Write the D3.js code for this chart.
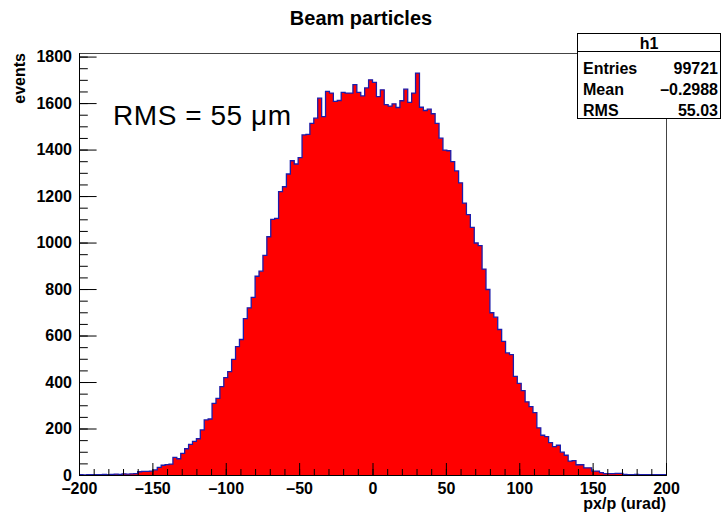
<!DOCTYPE html>
<html>
<head>
<meta charset="utf-8">
<script src="https://cdn.jsdelivr.net/npm/d3@7"></script>
<style>
  body { margin: 0; background: #fff; }
  svg text { font-family: "Liberation Sans", Arial, Helvetica, sans-serif; }
</style>
</head>
<body>
<div id="chart"></div>
<script>
// Histogram range and bin contents (150 bins from -200 to 200)
const xRange = [-200, 200];
const counts = [
    1, 0, 2, 1, 2, 1, 3, 2, 3, 4,
    3, 5, 4, 5, 6, 14, 16, 16, 17, 22,
    33, 42, 45, 47, 76, 70, 93, 113, 132, 145,
    156, 194, 237, 241, 308, 330, 380, 419, 445, 497,
    552, 583, 673, 719, 764, 855, 877, 945, 1025, 1100,
    1104, 1219, 1240, 1295, 1352, 1338, 1365, 1463, 1465, 1513,
    1535, 1621, 1542, 1650, 1643, 1607, 1611, 1646, 1643, 1643,
    1679, 1646, 1631, 1665, 1700, 1689, 1628, 1657, 1593, 1587,
    1597, 1581, 1610, 1660, 1603, 1643, 1729, 1582, 1568, 1574,
    1554, 1513, 1449, 1398, 1395, 1348, 1308, 1257, 1170, 1120,
    1065, 998, 987, 886, 798, 698, 679, 626, 575, 525,
    518, 424, 394, 363, 315, 294, 268, 203, 171, 165,
    139, 122, 128, 98, 85, 60, 62, 44, 44, 31,
    31, 17, 17, 10, 6, 6, 6, 7, 7, 3,
    2, 2, 3, 1, 2, 2, 1, 2, 1, 1
];

// Tick labels
const xTicks = [-200, -150, -100, -50, 0, 50, 100, 150, 200];
const yTicks = [0, 200, 400, 600, 800, 1000, 1200, 1400, 1600, 1800];

// Stats box
const statNames = ["Entries", "Mean", "RMS"];
const statValues = ["99721", "\u20130.2988", "55.03"];

const width = 721, height = 515;
const frame = {left: 79, right: 666, top: 53, bottom: 475};

const svg = d3.select("#chart")
    .append("svg")
    .attr("width", width)
    .attr("height", height);

svg.append("rect")
    .attr("width", width)
    .attr("height", height)
    .attr("fill", "#fff");

// Scales (ROOT puts the top of the frame at 1.05 * max)
const binWidth = (xRange[1] - xRange[0]) / counts.length;
const x = d3.scaleLinear().domain(xRange).range([frame.left, frame.right]);
const y = d3.scaleLinear()
    .domain([0, d3.max(counts) * 1.05])
    .range([frame.bottom, frame.top]);

// Step outline of the histogram
const steps = [];
counts.forEach((c, i) => {
    const lo = xRange[0] + i * binWidth;
    steps.push([lo, c], [lo + binWidth, c]);
});

const area = d3.area()
    .x(d => x(d[0]))
    .y0(y(0))
    .y1(d => y(d[1]));

const line = d3.line()
    .x(d => x(d[0]))
    .y(d => y(d[1]));

svg.append("path")
    .datum(steps)
    .attr("d", area)
    .attr("fill", "#ff0000");

svg.append("path")
    .datum(steps)
    .attr("d", line)
    .attr("fill", "none")
    .attr("stroke", "#1c1caa")
    .attr("stroke-width", 1.3);

// Frame
svg.append("rect")
    .attr("x", frame.left + 0.5)
    .attr("y", frame.top + 0.5)
    .attr("width", frame.right - frame.left)
    .attr("height", frame.bottom - frame.top)
    .attr("fill", "none")
    .attr("stroke", "#444");

const fmt = d => d < 0 ? "\u2013" + (-d) : String(d);

// X axis: minor ticks then major ticks with labels
svg.append("g")
    .attr("transform", `translate(0,${frame.bottom})`)
    .call(d3.axisBottom(x)
        .tickValues(d3.range(-200, 201, 10))
        .tickSize(-6)
        .tickSizeOuter(0)
        .tickFormat(""));

const xAxis = svg.append("g")
    .attr("transform", `translate(0,${frame.bottom})`)
    .call(d3.axisBottom(x)
        .tickValues(xTicks)
        .tickSize(-12)
        .tickSizeOuter(0)
        .tickPadding(8)
        .tickFormat(fmt));

// Y axis
svg.append("g")
    .attr("transform", `translate(${frame.left},0)`)
    .call(d3.axisLeft(y)
        .tickValues(d3.range(0, 1801, 50))
        .tickSize(-8.8)
        .tickSizeOuter(0)
        .tickFormat(""));

const yAxis = svg.append("g")
    .attr("transform", `translate(${frame.left},0)`)
    .call(d3.axisLeft(y)
        .tickValues(yTicks)
        .tickSize(-17.6)
        .tickSizeOuter(0)
        .tickPadding(7)
        .tickFormat(d3.format("d")));

svg.selectAll(".tick line").attr("stroke", "#000");
svg.selectAll(".domain").attr("stroke", "#000");
[xAxis, yAxis].forEach(g => g.selectAll("text")
    .style("font-size", "16px")
    .style("font-weight", "bold")
    .attr("fill", "#000")
    .style("font-family", "'Liberation Sans', Arial, sans-serif"));

// Axis titles
svg.append("text")
    .attr("x", frame.right)
    .attr("y", 509)
    .attr("text-anchor", "end")
    .style("font-size", "16px")
    .style("font-weight", "bold")
    .text("px/p (urad)");

svg.append("text")
    .attr("transform", `translate(25,${frame.top}) rotate(-90)`)
    .attr("text-anchor", "end")
    .style("font-size", "16px")
    .style("font-weight", "bold")
    .text("events");

// Title
svg.append("text")
    .attr("x", 361)
    .attr("y", 25)
    .attr("text-anchor", "middle")
    .style("font-size", "20px")
    .style("font-weight", "bold")
    .text("Beam particles");

// Annotation
svg.append("text")
    .attr("x", 113)
    .attr("y", 125)
    .attr("textLength", 178)
    .attr("lengthAdjust", "spacing")
    .style("font-size", "28px")
    .text("RMS = 55 \u03bcm");

// Stats box
const box = svg.append("g");
box.append("rect")
    .attr("x", 577.5)
    .attr("y", 33.5)
    .attr("width", 143)
    .attr("height", 85)
    .attr("fill", "#fff")
    .attr("stroke", "#000");

box.append("line")
    .attr("x1", 577.5).attr("x2", 720.5)
    .attr("y1", 51.5).attr("y2", 51.5)
    .attr("stroke", "#000");

box.append("text")
    .attr("x", 649)
    .attr("y", 48.5)
    .attr("text-anchor", "middle")
    .style("font-size", "16px")
    .style("font-weight", "bold")
    .text("h1");

const rowY = [73.5, 95, 116];
statNames.forEach((name, i) => {
    box.append("text")
        .attr("x", 583)
        .attr("y", rowY[i])
        .style("font-size", "16px")
        .style("font-weight", "bold")
        .text(name);
    box.append("text")
        .attr("x", 718)
        .attr("y", rowY[i])
        .attr("text-anchor", "end")
        .style("font-size", "16px")
        .style("font-weight", "bold")
        .text(statValues[i]);
});
</script>
</body>
</html>
